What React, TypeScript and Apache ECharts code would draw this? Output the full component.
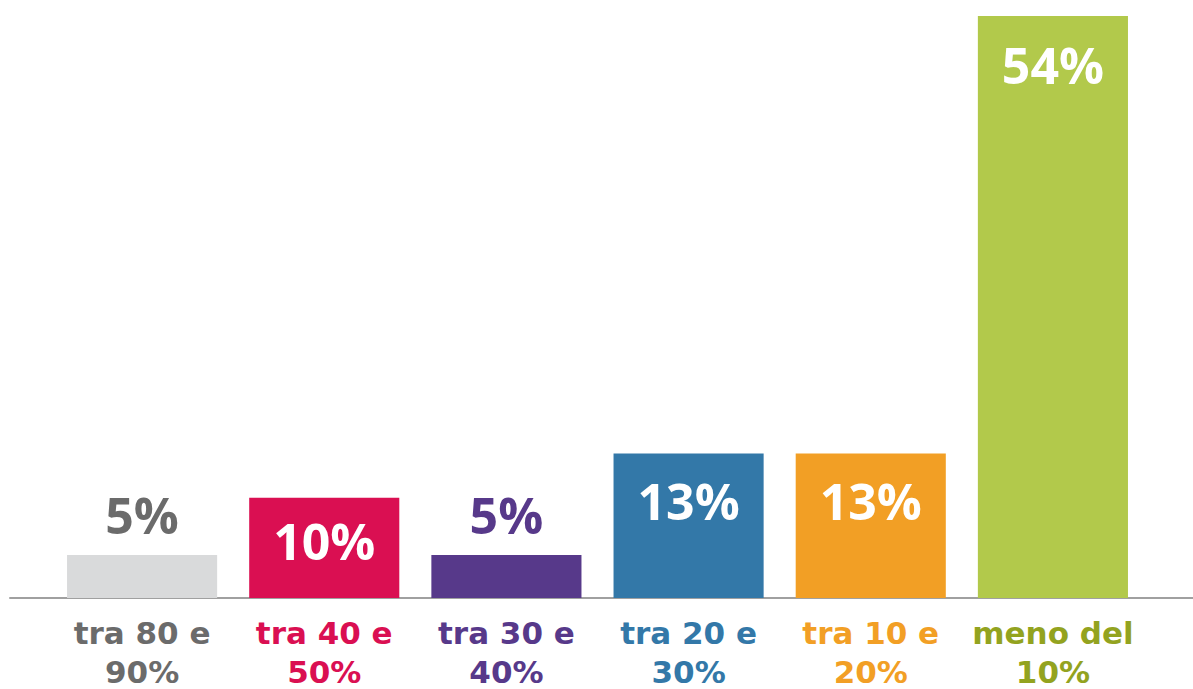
import React, { useEffect, useRef } from "react";
import * as echarts from "echarts";

const categories = ["tra 80 e\n90%", "tra 40 e\n50%", "tra 30 e\n40%", "tra 20 e\n30%", "tra 10 e\n20%", "meno del\n10%"];
const values = [4.0, 9.3, 4.0, 13.4, 13.4, 54];
const valueLabels = ["5%", "10%", "5%", "13%", "13%", "54%"];
const barColors = ["#D9DADB", "#DA0F52", "#57398A", "#3378A8", "#F29F25", "#B2C94B"];
const categoryColors = ["#6B6B6B", "#DA0F52", "#57398A", "#3378A8", "#F29F25", "#93A31F"];
const insideLabel = [false, true, false, true, true, true];
const outsideLabelColors = ["#6B6B6B", "", "#57398A", "", "", ""];
const labelDistance = [14, 17, 14, 21, 21, 23];

export default function App() {
  const ref = useRef<HTMLDivElement>(null);
  useEffect(() => {
    if (!ref.current) return;
    const chart = echarts.init(ref.current, null, { renderer: "svg" });
    const gridTop = 16;
    const gridBottom = 91;
    chart.setOption({
      animation: false,
      backgroundColor: "#ffffff",
      grid: [
        { left: 51, right: 49, top: gridTop, bottom: gridBottom, outerBoundsMode: "none", containLabel: false },
        { left: 10, right: 0, top: gridTop, bottom: gridBottom, outerBoundsMode: "none", containLabel: false },
      ],
      xAxis: [
        {
          type: "category",
          gridIndex: 0,
          data: categories.map((c, i) => ({ value: c, textStyle: { color: categoryColors[i] } })),
          axisLine: { show: false },
          axisTick: { show: false },
          axisLabel: {
            interval: 0,
            margin: 15,
            fontFamily: "DejaVu Sans",
            fontWeight: "bold",
            fontSize: 31,
            lineHeight: 39,
          },
        },
        {
          type: "category",
          gridIndex: 1,
          data: ["a"],
          axisLine: { show: true, lineStyle: { color: "#A0A0A0", width: 2 } },
          axisTick: { show: false },
          axisLabel: { show: false },
        },
      ],
      yAxis: [
        { type: "value", gridIndex: 0, min: 0, max: 54, show: false },
        { type: "value", gridIndex: 1, min: 0, max: 54, show: false },
      ],
      series: [
        {
          type: "bar",
          xAxisIndex: 0,
          yAxisIndex: 0,
          barCategoryGap: "17.6%",
          z: 3,
          data: values.map((v, i) => ({
            value: v,
            itemStyle: { color: barColors[i] },
            label: insideLabel[i]
              ? { position: "insideTop", distance: labelDistance[i], color: "#ffffff" }
              : { position: "top", distance: labelDistance[i], color: outsideLabelColors[i] },
          })),
          label: {
            show: true,
            fontFamily: "Open Sans",
            fontWeight: 700,
            fontSize: 50,
            lineHeight: 52,
            formatter: (p: any) => valueLabels[p.dataIndex],
          },
        },
      ],
    });
    return () => chart.dispose();
  }, []);
  return <div ref={ref} style={{ width: 1193, height: 689, position: "absolute", left: 0, top: 0 }} />;
}
